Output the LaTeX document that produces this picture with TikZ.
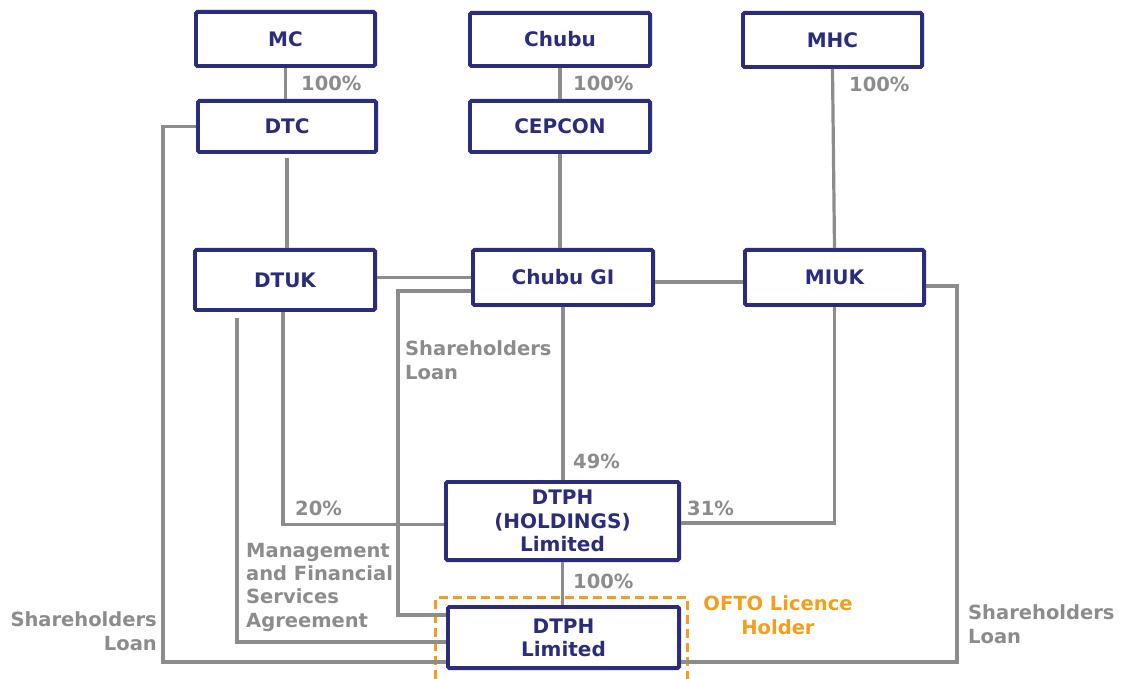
\documentclass[tikz,border=0pt]{standalone}
\usepackage{fontspec}
\setmainfont{DejaVu Sans}
\definecolor{navy}{RGB}{43,45,124}
\definecolor{lgray}{RGB}{140,140,140}
\definecolor{oftoorange}{RGB}{245,158,27}
\begin{document}
\begin{tikzpicture}[x=1pt,y=-1pt,
  box/.style={draw=navy, line width=3.8pt, rounded corners=1.5pt, inner sep=0pt,
    align=center, text=navy, font=\bfseries\fontsize{20}{23.3}\selectfont},
  conn/.style={draw=lgray, line width=3.2pt},
  lbl/.style={text=lgray, font=\bfseries\fontsize{19.5}{23.3}\selectfont,
    inner sep=0pt, anchor=base west, align=left},
  oftobox/.style={draw=oftoorange, line width=3pt, dash pattern=on 9pt off 5pt,
    inner sep=0pt},
]
\useasboundingbox[fill=white] (0,0) rectangle (1128,679);

% licence holder frame
\node[oftobox, minimum width=252pt, minimum height=110pt] (ofto) at (561.5,652.5) {};

% boxes
\node[box, minimum width=179.2pt, minimum height=54.2pt] (MC) at (285.5,39) {MC};
\node[box, minimum width=180.2pt, minimum height=53.2pt] (Chubu) at (560,39.5) {Chubu};
\node[box, minimum width=179.2pt, minimum height=54.2pt] (MHC) at (832.5,40) {MHC};
\node[box, minimum width=178.2pt, minimum height=51.2pt] (DTC) at (287,126.5) {DTC};
\node[box, minimum width=180.2pt, minimum height=51.2pt] (CEPCON) at (560,126.5) {CEPCON};
\node[box, minimum width=180.2pt, minimum height=60.2pt] (DTUK) at (285,280) {DTUK};
\node[box, minimum width=180.2pt, minimum height=55.2pt] (GI) at (563,277.5) {Chubu GI};
\node[box, minimum width=179.2pt, minimum height=55.2pt] (MIUK) at (834.5,277.5) {MIUK};
\node[box, minimum width=233.2pt, minimum height=78.2pt] (Hold) at (562.5,521) {DTPH\\(HOLDINGS)\\Limited};
\node[box, minimum width=231.2pt, minimum height=61.2pt] (Lim) at (563.5,637.5) {DTPH\\Limited};

% connectors
\draw[conn] (MC.south) -- (MC.south |- DTC.north);
\draw[conn] (Chubu.south) -- (Chubu.south |- CEPCON.north);
\draw[conn] (MHC.south) -- (MIUK.north);
\draw[conn] ([yshift=-4pt]DTC.south) -- (DTC.south |- DTUK.north);
\draw[conn] (CEPCON.south) -- (CEPCON.south |- GI.north);
\draw[conn] (DTUK.east |- GI.west) -- (GI.west);
\draw[conn] ([yshift=-4.5pt]GI.east) -- ([yshift=-4.5pt]MIUK.west);
\draw[conn] (GI.south) -- (GI.south |- Hold.north);
\draw[conn] ([xshift=-2pt]DTUK.south) |- ([yshift=-3.5pt]Hold.west);
\draw[conn] (MIUK.south) |- ([yshift=-2pt]Hold.east);
\draw[conn] (Hold.south) -- (Hold.south |- Lim.north);
\draw[conn] ([yshift=-13.5pt]GI.west) -| ([xshift=-48pt,yshift=22.5pt]Lim.west) -- ([yshift=22.5pt]Lim.west);
\draw[conn] ([xshift=-48pt,yshift=-6pt]DTUK.south) |- ([yshift=-4.5pt]Lim.west);
\draw[conn] (DTC.west) -| ([xshift=-283pt,yshift=-24.5pt]Lim.west) -- ([yshift=-24.5pt]Lim.west);
\draw[conn] ([yshift=-8.5pt]MIUK.east) -| ([xshift=276pt,yshift=-24.5pt]Lim.east) -- ([yshift=-24.5pt]Lim.east);

% labels (multi-line labels are placed by their last baseline)
\node[lbl] (p1) at (301,91) {100\%};
\node[lbl] (p2) at (573,91) {100\%};
\node[lbl] (p3) at (849,92) {100\%};
\node[lbl] (slmid) at (405,379) {Shareholders\\Loan};
\node[lbl] (p49) at (573,468) {49\%};
\node[lbl] (p20) at (295,515) {20\%};
\node[lbl] (p31) at (687,515) {31\%};
\node[lbl] (p100) at (573,588) {100\%};
\node[lbl] (mfsa) at (246,627) {Management\\and Financial\\Services\\Agreement};
\node[lbl, anchor=base east, align=right] (slleft) at (157,650) {Shareholders\\Loan};
\node[lbl] (slright) at (968,643) {Shareholders\\Loan};
\node[lbl, anchor=base, align=center, text=oftoorange] (oftolbl) at (778,634) {OFTO Licence\\Holder};
\end{tikzpicture}
\end{document}
